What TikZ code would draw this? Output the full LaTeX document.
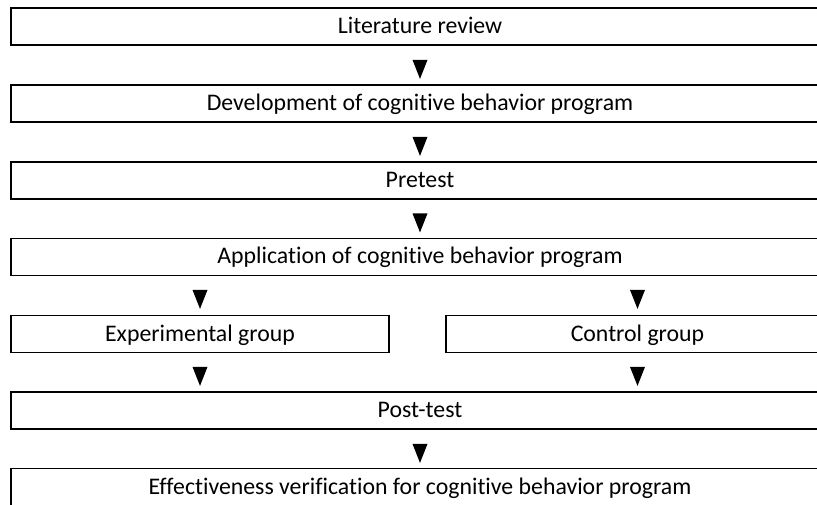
\documentclass[tikz,border=0pt]{standalone}
\usepackage{fontspec}
\setmainfont{Carlito}[Ligatures=NoCommon]
\usetikzlibrary{positioning,shapes.geometric}

\begin{document}
\begin{tikzpicture}[x=1pt, y=-1pt, node distance=77pt, on grid,
stage/.style={rectangle, draw, line width=1.1pt, minimum width=818pt,
  minimum height=37pt, inner sep=0pt, text height=14pt, text depth=0pt,
  font=\fontsize{23.8}{28}\selectfont},
marker/.style={isosceles triangle, isosceles triangle stretches,
  shape border rotate=-90, fill, inner sep=0pt,
  minimum width=15pt, minimum height=19pt}
]
\useasboundingbox (0,0) rectangle (817,505);
\node[stage] (lit) at (420,26.5) {Literature review};
\node[stage] (dev) [below=of lit] {Development of cognitive behavior program};
\node[stage] (pre) [below=of dev] {Pretest};
\node[stage] (app) [below=76.5pt of pre] {Application of cognitive behavior program};
\node[stage, minimum width=378pt] (exp) [below left=77pt and 220pt of app] {Experimental group};
\node[stage, minimum width=383pt] (ctl) [below right=77pt and 217.5pt of app] {Control group};
\node[stage] (post) [below=153.5pt of app] {Post-test};
\node[stage] (eff) [below=76.5pt of post] {Effectiveness verification for cognitive behavior program};
% markers between the stages
\node[marker] (m1) [below=38.5pt of lit] {};
\node[marker] (m2) [below=38.5pt of dev] {};
\node[marker] (m3) [below=38pt of pre] {};
\node[marker] (m4) [above=39pt of exp] {};
\node[marker] (m5) [above=39pt of ctl] {};
\node[marker] (m6) [below=38pt of exp] {};
\node[marker] (m7) [below=38pt of ctl] {};
\node[marker] (m8) [below=38.5pt of post] {};
\end{tikzpicture}
\end{document}
